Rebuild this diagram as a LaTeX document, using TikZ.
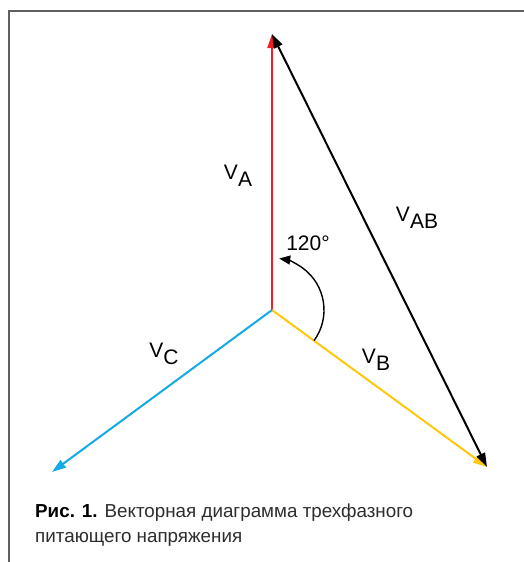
\documentclass[tikz,border=0pt]{standalone}
\usepackage{fontspec}
\setmainfont{Liberation Sans}
\usetikzlibrary{arrows.meta}

\definecolor{phaseA}{RGB}{237,32,39}
\definecolor{phaseB}{RGB}{255,200,10}
\definecolor{phaseC}{RGB}{20,170,230}
\definecolor{framegray}{RGB}{95,95,95}
\definecolor{captext}{RGB}{45,45,45}

\tikzset{
  vec/.style={line width=2pt, -{Triangle[length=14pt,width=9pt]}},
  lbl/.style={inner sep=0pt, font=\fontsize{21}{25}\selectfont},
  captxt/.style={anchor=base west, inner sep=0pt, text=captext, font=\fontsize{18.8}{22}\selectfont},
}
\newcommand{\vsub}[1]{V\raisebox{-7pt}{#1}}

\begin{document}
\begin{tikzpicture}[x=1pt,y=-1pt]
\useasboundingbox (0,0) rectangle (524,562);
% frame
\draw [framegray, line width=2pt] (8,11) -- (524,11);
\draw [framegray, line width=2pt] (9,10) -- (9,562);

\coordinate (O) at (272,310);
\coordinate (A) at (272,34);
\coordinate (B) at (487,467);
\coordinate (C) at (52,472);

\draw [vec, phaseA] (O) -- (A);
\draw [vec, phaseB] (O) -- (B);
\draw [vec, phaseC] (O) -- (C);
\draw [line width=2pt, {Triangle[length=14pt,width=9pt]}-{Triangle[length=14pt,width=9pt]}] (A) -- (B);

% angle
\draw [line width=1.4pt, -{Triangle[length=11pt,width=9pt]}] (O) ++(-36:52pt) arc [start angle=-36, end angle=82, radius=52pt];

\node [lbl] (labA) at (238,176) {\vsub{A}};
\node [lbl] (labAB) at (417,218) {\vsub{AB}};
\node [lbl] (ang) at (308,243) {120°};
\node [lbl] (labB) at (376,360) {\vsub{B}};
\node [lbl] (labC) at (164,354) {\vsub{C}};

% caption
\node [captxt] (cap1) at (35,517) {\textcolor{black}{\textbf{Рис. 1.}} Векторная диаграмма трехфазного};
\node [captxt] (cap2) at (35,542) {питающего напряжения};
\end{tikzpicture}
\end{document}
